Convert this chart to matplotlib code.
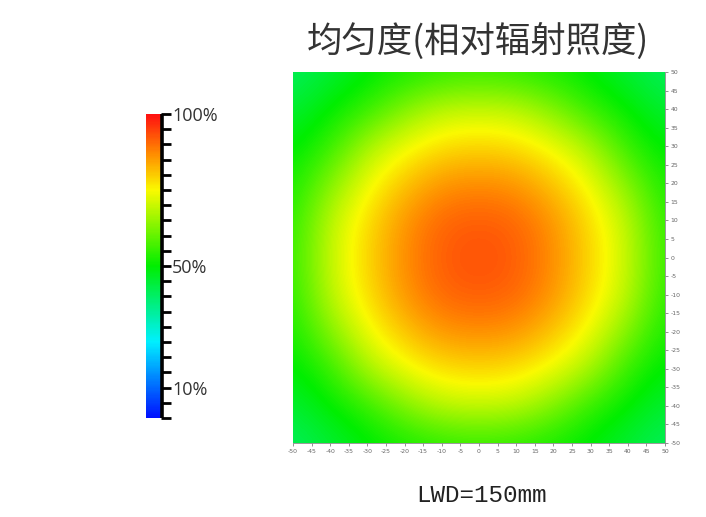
import numpy as np
import matplotlib
matplotlib.use("Agg")
import matplotlib.pyplot as plt
from matplotlib.colors import LinearSegmentedColormap

# ---- data (relative irradiance %, rows top (y=50) -> bottom (y=-50)) ----
x_coords = [-50, -40, -30, -20, -10, 0, 10, 20, 30, 40, 50]
y_coords = [50, 40, 30, 20, 10, 0, -10, -20, -30, -40, -50]
irradiance = [
    [41, 45, 49, 52, 54, 55, 54, 52, 49, 45, 41],
    [45, 50, 55, 63, 69, 70, 69, 63, 55, 50, 45],
    [49, 55, 67, 74, 78, 79, 78, 74, 67, 55, 49],
    [52, 63, 74, 81, 86, 87, 86, 81, 74, 63, 52],
    [54, 69, 78, 86, 91, 92, 91, 86, 78, 69, 54],
    [55, 70, 79, 87, 92, 93.5, 92, 87, 79, 70, 55],
    [54, 69, 78, 86, 91, 92, 91, 86, 78, 69, 54],
    [52, 63, 74, 81, 86, 87, 86, 81, 74, 63, 52],
    [49, 55, 67, 74, 78, 79, 78, 74, 67, 55, 49],
    [45, 50, 55, 63, 69, 70, 69, 63, 55, 50, 45],
    [41, 45, 49, 52, 54, 55, 54, 52, 49, 45, 41],
]
axis_ticks = list(range(-50, 55, 5))
cbar_ticks = list(range(0, 105, 5))
cbar_labels = {10: "10%", 50: "50%", 100: "100%"}
title = "均匀度(相对辐射照度)"
footer = "LWD=150mm"

# ---- figure ----
W, H = 706, 517
fig = plt.figure(figsize=(W / 100, H / 100), dpi=100)

cmap = LinearSegmentedColormap.from_list(
    "irr",
    [(0.0, "#0010ff"), (0.25, "#00f0ff"), (0.5, "#00ee00"),
     (0.75, "#fafa00"), (0.87, "#ff8c00"), (1.0, "#ff1010")])

def px_axes(l, t, r, b):
    return fig.add_axes([l / W, 1 - b / H, (r - l) / W, (b - t) / H])

ax = px_axes(293, 72, 665, 443)
data = np.array(irradiance, dtype=float)
im = ax.imshow(data, cmap=cmap, vmin=0, vmax=100, interpolation="bicubic",
               extent=[x_coords[0] - 5, x_coords[-1] + 5,
                       y_coords[-1] - 5, y_coords[0] + 5],
               origin="upper", aspect="auto")
ax.set_xlim(-50, 50)
ax.set_ylim(-50, 50)
ax.set_xticks(axis_ticks)
ax.set_yticks(axis_ticks)
ax.set_xticklabels([str(v) for v in axis_ticks])
ax.set_yticklabels([str(v) for v in axis_ticks])
ax.yaxis.tick_right()
ax.tick_params(axis="both", labelsize=4.4, colors="#666666", length=2.5,
               width=0.5, pad=1.5)
for side, sp in ax.spines.items():
    sp.set_color("#888888")
    sp.set_linewidth(0.6)
    if side in ("top", "left"):
        sp.set_visible(False)

# colorbar
cax = px_axes(146, 114, 161, 418)
cb = fig.colorbar(im, cax=cax, orientation="vertical")
cb.outline.set_visible(False)
cb.set_ticks(cbar_ticks)
cb.set_ticklabels([cbar_labels.get(v, "") for v in cbar_ticks])
cax.tick_params(axis="y", length=7, width=2.0, color="black", pad=1,
                labelsize=13, labelcolor="#333333")
for lab in cax.get_yticklabels():
    lab.set_fontfamily(["Open Sans", "DejaVu Sans"])
cax.plot([1.08, 1.08], [0, 1], transform=cax.transAxes, color="black",
         lw=2.6, clip_on=False, solid_capstyle="butt")

# title & footer
fig.text(478 / W, 1 - 41 / H, title, ha="center", va="center", fontsize=25.5,
         color="#333333", family=["Noto Sans CJK SC", "DejaVu Sans"],
         fontweight="light")
fig.text(482 / W, 1 - 495 / H, footer, ha="center", va="center", fontsize=17.5,
         color="#222222", family=["Liberation Mono", "DejaVu Sans Mono"])

fig.savefig("out.png", dpi=100)
